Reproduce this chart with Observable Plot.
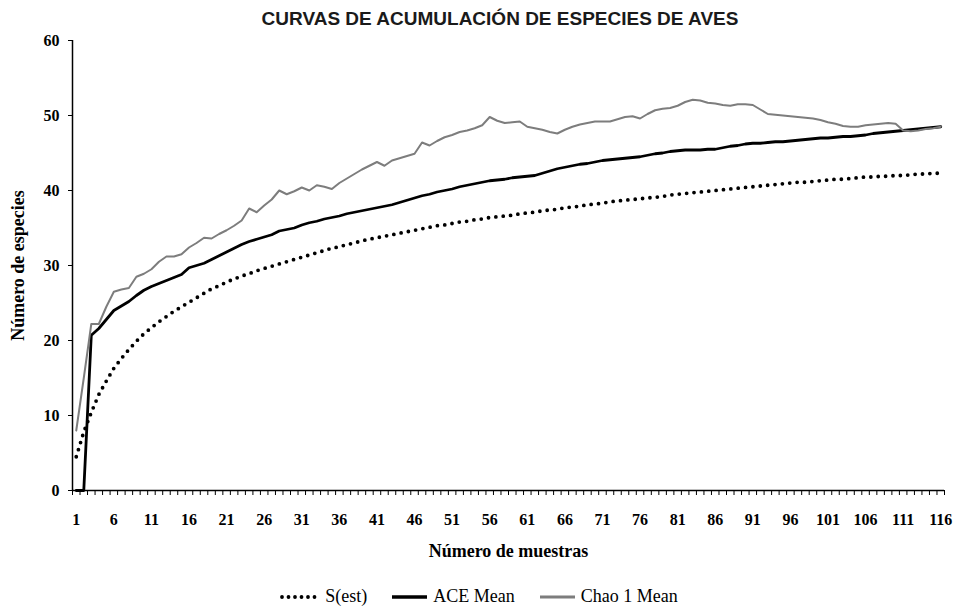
<!DOCTYPE html>
<html>
<head>
<meta charset="utf-8">
<script src="https://cdn.jsdelivr.net/npm/d3@7"></script>
<script src="https://cdn.jsdelivr.net/npm/@observablehq/plot@0.6"></script>
<style>
  html, body { margin: 0; padding: 0; background: #fff; width: 957px; height: 608px; overflow: hidden; }
  #wrap { position: relative; width: 957px; height: 608px; }
  #title { position: absolute; top: 7px; left: 500px; transform: translateX(-50%); white-space: nowrap;
           font: bold 19px "Liberation Sans", Arial, sans-serif; color: #1a1a1a; line-height: 24px; }
  #chart { position: absolute; top: 30px; left: 0; }
  #legend { position: absolute; top: 586px; left: 0; width: 957px; display: flex; justify-content: center;
            align-items: center; white-space: nowrap; line-height: 22px;
            font: 18px "Liberation Serif", "Times New Roman", serif; color: #000; }
  #legend .item { display: flex; align-items: center; margin: 0 11px; }
  #legend svg { margin-right: 2px; }
</style>
</head>
<body>
<div id="wrap">
  <div id="title">CURVAS DE ACUMULACIÓN DE ESPECIES DE AVES</div>
  <div id="chart"></div>
  <div id="legend"></div>
</div>
<script>
// Sample number (1..116)
const samples = Array.from({length: 116}, (_, i) => i + 1);
const xTickLabels = [1, 6, 11, 16, 21, 26, 31, 36, 41, 46, 51, 56, 61, 66, 71, 76, 81, 86, 91, 96, 101, 106, 111, 116];
const yTicks = [0, 10, 20, 30, 40, 50, 60];

const sEst = [
  4.5, 7.8, 10.4, 12.8, 14.6, 16.3, 17.6, 18.8, 19.9, 20.9,
  21.7, 22.5, 23.2, 23.9, 24.5, 25.1, 25.7, 26.3, 26.9, 27.3,
  27.8, 28.2, 28.6, 28.9, 29.3, 29.6, 29.9, 30.2, 30.5, 30.8,
  31.1, 31.4, 31.7, 32.0, 32.3, 32.5, 32.8, 33.0, 33.3, 33.5,
  33.7, 33.9, 34.1, 34.3, 34.5, 34.7, 34.9, 35.1, 35.3, 35.4,
  35.6, 35.8, 35.9, 36.1, 36.2, 36.4, 36.5, 36.6, 36.7, 36.9,
  37.0, 37.1, 37.3, 37.4, 37.5, 37.7, 37.8, 37.9, 38.1, 38.2,
  38.3, 38.5, 38.6, 38.7, 38.8, 38.9, 39.0, 39.1, 39.2, 39.4,
  39.5, 39.6, 39.7, 39.8, 39.9, 40.0, 40.1, 40.2, 40.3, 40.4,
  40.5, 40.6, 40.7, 40.8, 40.9, 41.0, 41.1, 41.1, 41.2, 41.3,
  41.4, 41.5, 41.5, 41.6, 41.7, 41.8, 41.8, 41.9, 41.9, 42.0,
  42.0, 42.1, 42.2, 42.2, 42.3, 42.3
];

const aceMean = [
  0, 0, 20.7, 21.6, 22.8, 24.0, 24.6, 25.2, 26.0, 26.7,
  27.2, 27.6, 28.0, 28.4, 28.8, 29.7, 30.0, 30.3, 30.8, 31.3,
  31.8, 32.3, 32.8, 33.2, 33.5, 33.8, 34.1, 34.6, 34.8, 35.0,
  35.4, 35.7, 35.9, 36.2, 36.4, 36.6, 36.9, 37.1, 37.3, 37.5,
  37.7, 37.9, 38.1, 38.4, 38.7, 39.0, 39.3, 39.5, 39.8, 40.0,
  40.2, 40.5, 40.7, 40.9, 41.1, 41.3, 41.4, 41.5, 41.7, 41.8,
  41.9, 42.0, 42.3, 42.6, 42.9, 43.1, 43.3, 43.5, 43.6, 43.8,
  44.0, 44.1, 44.2, 44.3, 44.4, 44.5, 44.7, 44.9, 45.0, 45.2,
  45.3, 45.4, 45.4, 45.4, 45.5, 45.5, 45.7, 45.9, 46.0, 46.2,
  46.3, 46.3, 46.4, 46.5, 46.5, 46.6, 46.7, 46.8, 46.9, 47.0,
  47.0, 47.1, 47.2, 47.2, 47.3, 47.4, 47.6, 47.7, 47.8, 47.9,
  48.0, 48.1, 48.2, 48.3, 48.4, 48.5
];

const chao1Mean = [
  8.0, 15.0, 22.2, 22.2, 24.5, 26.5, 26.8, 27.0, 28.5, 28.9,
  29.5, 30.5, 31.2, 31.2, 31.5, 32.4, 33.0, 33.7, 33.6, 34.2,
  34.7, 35.3, 36.0, 37.6, 37.1, 38.0, 38.8, 40.0, 39.5, 39.9,
  40.4, 40.0, 40.7, 40.5, 40.2, 41.0, 41.6, 42.2, 42.8, 43.3,
  43.8, 43.3, 44.0, 44.3, 44.6, 44.9, 46.4, 46.0, 46.6, 47.1,
  47.4, 47.8, 48.0, 48.3, 48.7, 49.8, 49.3, 49.0, 49.1, 49.2,
  48.5, 48.3, 48.1, 47.8, 47.6, 48.1, 48.5, 48.8, 49.0, 49.2,
  49.2, 49.2, 49.5, 49.8, 49.9, 49.6, 50.2, 50.7, 50.9, 51.0,
  51.3, 51.8, 52.1, 52.0, 51.7, 51.6, 51.4, 51.3, 51.5, 51.5,
  51.4, 50.8, 50.2, 50.1, 50.0, 49.9, 49.8, 49.7, 49.6, 49.4,
  49.1, 48.9, 48.6, 48.5, 48.5, 48.7, 48.8, 48.9, 49.0, 48.9,
  48.0, 47.9, 48.0, 48.2, 48.3, 48.5
];

const seriesNames = ["S(est)", "ACE Mean", "Chao 1 Mean"];

const rows = (vals) => samples.map((s, i) => ({x: s, y: vals[i]}));
const boundaries = samples.map(s => s - 0.5).concat([samples[samples.length - 1] + 0.5]);

const serif = '"Liberation Serif", "Times New Roman", serif';

const chart = Plot.plot({
  width: 957,
  height: 545,
  marginLeft: 72,
  marginRight: 13,
  marginTop: 10,
  marginBottom: 85,
  style: {fontFamily: serif, fontSize: "16px", fontWeight: "bold", color: "#000", background: "transparent"},
  x: {domain: [0.5, 116.5]},
  y: {domain: [0, 60]},
  marks: [
    Plot.axisY({ticks: yTicks, tickSize: 4, tickPadding: 9, label: null, fontSize: 16, fontWeight: "bold"}),
    Plot.axisY({ticks: [], tickSize: 0, label: "Número de especies", labelAnchor: "center", labelArrow: "none",
                labelOffset: 61, fontSize: 18, fontWeight: "bold"}),
    Plot.axisX({ticks: boundaries, tickSize: 5, text: null, label: null, strokeWidth: 1}),
    Plot.axisX({ticks: xTickLabels, tickSize: 0, tickPadding: 23, label: null, fontSize: 16, fontWeight: "bold"}),
    Plot.axisX({ticks: [], tickSize: 0, label: "Número de muestras", labelAnchor: "center", labelArrow: "none",
                labelOffset: 66, fontSize: 18, fontWeight: "bold"}),
    Plot.ruleY([0], {stroke: "#000", strokeWidth: 1.5}),
    Plot.ruleX([0.5], {stroke: "#000", strokeWidth: 1.5}),
    Plot.line(rows(sEst), {x: "x", y: "y", stroke: "#000", strokeWidth: 3.8,
                           strokeDasharray: "0 7.4", strokeLinecap: "round"}),
    Plot.line(rows(aceMean), {x: "x", y: "y", stroke: "#000", strokeWidth: 2.8}),
    Plot.line(rows(chao1Mean), {x: "x", y: "y", stroke: "#7d7d7d", strokeWidth: 2})
  ]
});
document.getElementById("chart").appendChild(chart);

// Legend
const legendStyles = [
  {stroke: "#000", width: 3.8, dash: "0 6.5", cap: "round", w: 44},
  {stroke: "#000", width: 3.5, dash: null, cap: "butt", w: 42},
  {stroke: "#7d7d7d", width: 3, dash: null, cap: "butt", w: 42}
];
const legend = document.getElementById("legend");
seriesNames.forEach((name, i) => {
  const st = legendStyles[i];
  const item = document.createElement("div");
  item.className = "item";
  const svg = d3.create("svg").attr("width", st.w).attr("height", 10);
  svg.append("line").attr("x1", 3).attr("x2", st.w - 4).attr("y1", 5).attr("y2", 5)
    .attr("stroke", st.stroke).attr("stroke-width", st.width)
    .attr("stroke-dasharray", st.dash).attr("stroke-linecap", st.cap);
  item.appendChild(svg.node());
  const span = document.createElement("span");
  span.textContent = name;
  item.appendChild(span);
  legend.appendChild(item);
});
</script>
</body>
</html>
